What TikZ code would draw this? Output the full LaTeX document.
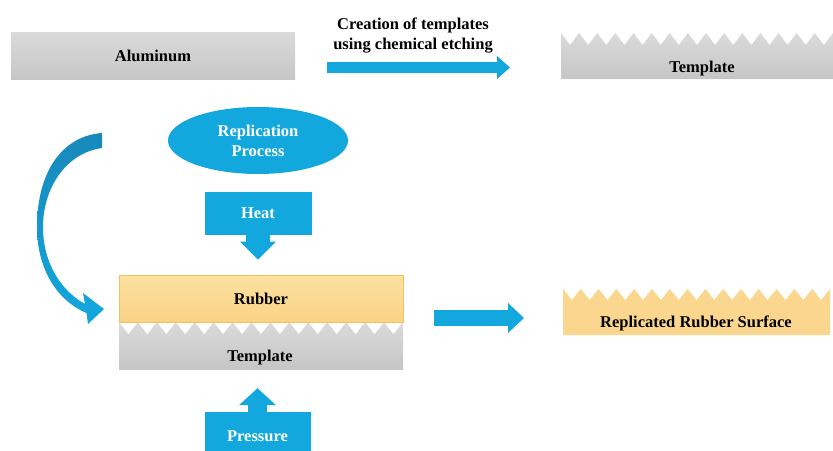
\documentclass[tikz,border=0pt]{standalone}
\usepackage{fontspec}
\setmainfont{Liberation Serif}
\usetikzlibrary{arrows.meta, shapes.geometric}

\definecolor{procblue}{RGB}{18,168,222}
\definecolor{arcdark}{RGB}{24,136,186}
\definecolor{platetop}{RGB}{218,218,218}
\definecolor{platebot}{RGB}{198,198,198}
\definecolor{rubbertop}{RGB}{253,225,160}
\definecolor{rubberbot}{RGB}{250,210,135}
\definecolor{rubberedge}{RGB}{242,192,95}
\definecolor{replfill}{RGB}{251,214,142}

\begin{document}
\begin{tikzpicture}[x=1pt, y=-1pt,
    every node/.style={font=\fontsize{16.5}{20}\selectfont\bfseries},
    plate/.style={top color=platetop, bottom color=platebot},
    bluebox/.style={fill=procblue, text=white, inner sep=0pt},
    rubberbox/.style={top color=rubbertop, bottom color=rubberbot, draw=rubberedge, line width=0.8pt,
                      minimum width=284pt, minimum height=47pt, inner sep=0pt}]

    \useasboundingbox (0,0) rectangle (833,450);

    % 1. Fixed points of the straight block arrows
    \coordinate (etchA) at (327,67.5);
    \coordinate (etchB) at (510,67.5);
    \coordinate (outA) at (434,318);
    \coordinate (outB) at (524,318);

    % 2. First row: aluminum plate, etching, template
    \node[plate, minimum width=284pt, minimum height=47pt, inner sep=0pt] (alu) at (153,55.5) {Aluminum};
    \node[align=center] (etchlbl) at (413,35.5) {Creation of templates\\using chemical etching};
    \draw[procblue, line width=11pt, -{Triangle[length=13pt, width=23pt, line width=0pt]}] (etchA) -- (etchB);

    % template with teeth on top
    \shade[plate] (561,79) -- (561,33)
        \foreach \i in {1,...,15} { -- ({561+(\i-0.5)*18.13},45) -- ({561+\i*18.13},33) } -- (833,79) -- cycle;
    \node[anchor=base] (tmplA) at (702,72) {Template};

    % 3. Replication process
    \node[ellipse, fill=procblue, text=white, minimum width=180pt, minimum height=67pt,
          inner sep=0pt, align=center] (proc) at (258,140.5) {Replication\\Process};

    % curved arrow on the left
    \shade[top color=arcdark, bottom color=procblue]
        (102,133) -- (102,148)
        .. controls (66,153) and (43,188) .. (43,227)
        .. controls (43,262) and (60,290) .. (85,304)
        -- (83,293) -- (104,309) -- (88,324) -- (86.5,313)
        .. controls (56,300) and (37,268) .. (37,227)
        .. controls (37,172) and (62,136) .. (102,133) -- cycle;

    % heat from above
    \node[bluebox, minimum width=107pt, minimum height=43pt] (heat) at (258,213.5) {Heat};

    % template under the rubber, white gaps between the teeth
    \node[plate, minimum width=284pt, minimum height=47pt, inner sep=0pt] (mold) at (261,345.5) {};
    \fill[white] \foreach \i in {0,...,14} {
        ({119+\i*18.93},322) -- ({119+(\i+0.5)*18.93},334) -- ({119+(\i+1)*18.93},322) -- cycle };
    \node[anchor=base] (tmplB) at (260,361) {Template};

    \node[rubberbox] (rubber) at (261,298.5) {Rubber};
    \draw[procblue, line width=24pt, -{Triangle[length=18pt, width=36pt, line width=0pt]}, shorten >=15pt]
        (heat.south) -- (heat.south |- rubber.north);

    % pressure from below
    \node[bluebox, minimum width=106pt, minimum height=48pt] (press) at (257.5,436) {Pressure};
    \draw[procblue, line width=19pt, -{Triangle[length=17pt, width=37pt, line width=0pt]}, shorten >=19pt]
        (press.north) -- (press.north |- mold.south);

    % 4. Result: replicated rubber surface
    \draw[procblue, line width=16pt, -{Triangle[length=16pt, width=30pt, line width=0pt]}] (outA) -- (outB);
    \fill[replfill] (563,335) -- (563,289)
        \foreach \i in {1,...,15} { -- ({563+(\i-0.5)*17.8},300) -- ({563+\i*17.8},289) } -- (830,335) -- cycle;
    \node[anchor=base] (repl) at (696,327) {Replicated Rubber Surface};

\end{tikzpicture}
\end{document}
